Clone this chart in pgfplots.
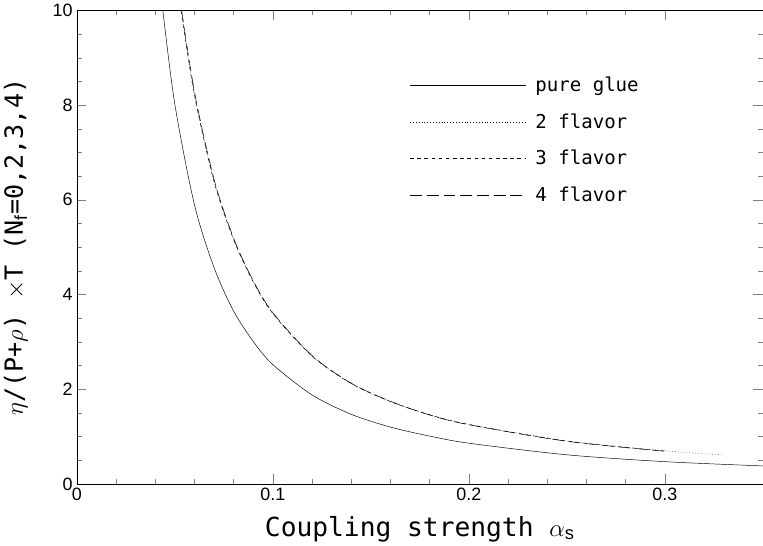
\documentclass[border=0pt]{standalone}
\usepackage{pgfplots}
\pgfplotsset{compat=1.18}
\usepackage{fontspec}
\setmainfont{Liberation Sans}
\newfontfamily\monof{DejaVu Sans Mono}
\begin{document}
\begin{tikzpicture}
\begin{axis}[width=620pt,height=442pt,
  xmin=0,xmax=0.35,ymin=0,ymax=10,
  xtick={0,0.1,0.2,0.3},ytick={0,2,...,10},
  minor x tick num=4, minor y tick num=3,
  tick align=inside, xtick pos=both, ytick pos=both,
  major tick length=8pt, minor tick length=4pt,
  xticklabel style={/pgf/number format/fixed},
  /pgf/number format/assume math mode=true,
  tick label style={font=\fontsize{15}{17}\selectfont},
  xlabel={\monof\fontsize{22}{26}\selectfont Coupling strength $\alpha_{\mathrm{s}}$},
  ylabel={\monof\fontsize{21}{25}\selectfont $\eta$/(P+$\rho$) $\times$T (N$_{\mathrm f}$=0,2,3,4)},
  ylabel shift=14pt, xlabel shift=6pt,
  legend style={draw=none,fill=none,at={(0.48,0.87)},anchor=north west,font=\monof\fontsize{16}{19}\selectfont,row sep=13pt,nodes={inner xsep=8pt}},
  legend cell align=left,
  legend image code/.code={\draw[#1] (0cm,0cm) -- (3.4cm,0cm);},
  ]
\addplot[black,no marks,smooth,solid] coordinates {(0.0439,10)(0.05,8.02)(0.06,5.90)(0.07,4.57)(0.08,3.65)(0.09,3.01)(0.1,2.52)(0.12,1.88)(0.14,1.47)(0.16,1.20)(0.18,1.01)(0.2,0.86)(0.25,0.615)(0.3,0.47)(0.35,0.38)};
\addlegendentry{pure glue}
\addplot[black,no marks,smooth,dotted] coordinates {(0.0532,10)(0.06,8.22)(0.07,6.39)(0.08,5.16)(0.09,4.27)(0.1,3.60)(0.12,2.70)(0.14,2.12)(0.16,1.74)(0.18,1.46)(0.2,1.26)(0.25,0.91)(0.3,0.70)(0.33,0.61)};
\addlegendentry{2 flavor}
\addplot[black,no marks,smooth,dashed] coordinates {(0.0532,10)(0.06,8.22)(0.07,6.39)(0.08,5.16)(0.09,4.27)(0.1,3.60)(0.12,2.70)(0.14,2.12)(0.16,1.74)(0.18,1.46)(0.2,1.255)(0.25,0.905)(0.3,0.695)};
\addlegendentry{3 flavor}
\addplot[black,no marks,smooth,dash pattern=on 10pt off 4pt] coordinates {(0.0535,10)(0.0603,8.22)(0.0703,6.39)(0.0803,5.16)(0.0903,4.27)(0.1003,3.60)(0.1203,2.70)(0.1403,2.12)(0.1603,1.74)(0.18,1.455)(0.2,1.25)(0.25,0.90)(0.3,0.69)};
\addlegendentry{4 flavor}
\end{axis}
\end{tikzpicture}
\end{document}
